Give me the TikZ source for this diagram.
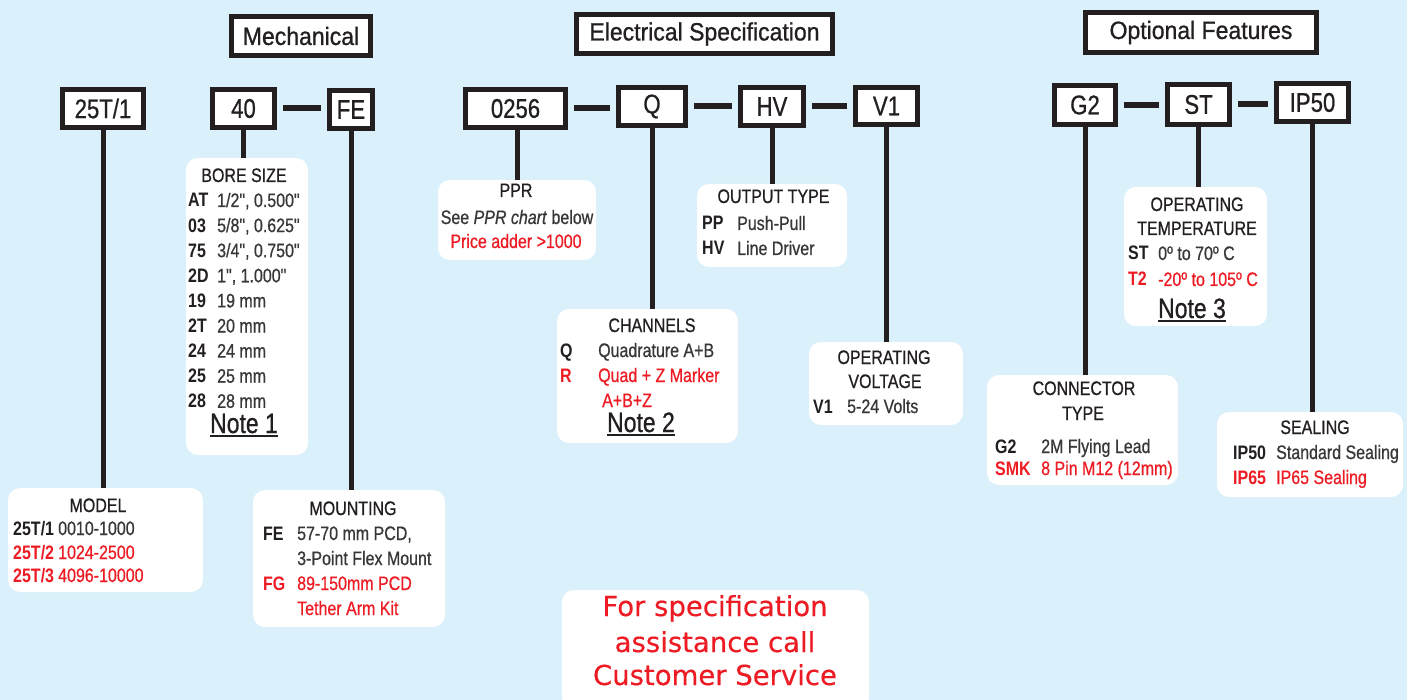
\documentclass[tikz,border=0pt]{standalone}
\usepackage{fontspec}
\setmainfont[FakeStretch=0.82, Ligatures=TeXOff, UprightFeatures={FakeBold=0.7}, ItalicFeatures={FakeBold=0.7}]{Liberation Sans}
\newfontfamily\hfont[FakeStretch=0.92, FakeBold=0.9]{Liberation Sans}
\newfontfamily\vfont[FakeBold=0.4]{DejaVu Sans}
\definecolor{bg}{RGB}{218,240,251}
\definecolor{ink}{RGB}{35,31,32}
\definecolor{val}{RGB}{55,55,55}
\definecolor{redc}{RGB}{237,28,36}
\newcommand\noteul[1]{\setbox0\hbox{#1}\rlap{\rule[-4pt]{\wd0}{1.8pt}}\box0}
\begin{document}
\begin{tikzpicture}[x=1pt,y=-1pt,
 codebox/.style={draw=ink, line width=5pt, fill=white, inner sep=0pt, font=\fontsize{27}{30}\selectfont, text=ink},
 headbox/.style={draw=ink, line width=5pt, fill=white, inner sep=0pt, font=\hfont\fontsize{25}{30}\selectfont, text=ink},
 infobox/.style={fill=white, rounded corners=12pt, inner sep=0pt},
 link/.style={draw=ink, line width=5pt},
 dashlink/.style={draw=ink, line width=6pt, shorten <=6pt, shorten >=6pt},
 hd/.style={inner sep=0pt, anchor=base, text=ink, font=\fontsize{19.5}{25}\selectfont},
 cd/.style={inner sep=0pt, anchor=base west, text=ink, font=\fontsize{19.5}{25}\selectfont\bfseries},
 vl/.style={inner sep=0pt, anchor=base west, text=val, font=\fontsize{19.5}{25}\selectfont},
 rcd/.style={cd, text=redc},
 rvl/.style={vl, text=redc},
 nt/.style={inner sep=0pt, anchor=base, text=ink, font=\fontsize{28}{30}\selectfont},
]
\useasboundingbox (0,0) rectangle (1407,700);
\fill[bg] (0,0) rectangle (1407,700);
\clip (0,0) rectangle (1407,700);

% headers
\node[headbox, minimum width=139pt, minimum height=39pt] (hmech) at (301,36) {Mechanical};
\node[headbox, minimum width=256pt, minimum height=39pt] (helec) at (704.5,34) {Electrical Specification};
\node[headbox, minimum width=231pt, minimum height=40pt] (hopt) at (1201,32.5) {Optional Features};

% code boxes
\node[codebox, minimum width=81pt, minimum height=38pt] (b25) at (103,108.5) {25T/1};
\node[codebox, minimum width=62pt, minimum height=38pt] (b40) at (243.5,108.5) {40};
\node[codebox, minimum width=43pt, minimum height=38pt] (bfe) at (351,109.5) {FE};
\node[codebox, minimum width=100pt, minimum height=38pt] (b0256) at (515.5,108.5) {0256};
\node[codebox, minimum width=67pt, minimum height=38pt] (bq) at (652,106.5) {Q};
\node[codebox, minimum width=63pt, minimum height=38pt] (bhv) at (772,106.5) {HV};
\node[codebox, minimum width=62pt, minimum height=37pt] (bv1) at (886.5,106) {V1};
\node[codebox, minimum width=61pt, minimum height=39pt] (bg2) at (1085,105) {G2};
\node[codebox, minimum width=62pt, minimum height=40pt] (bst) at (1198.5,104.5) {ST};
\node[codebox, minimum width=72pt, minimum height=38pt] (bip) at (1312.5,102.5) {IP50};

% info boxes
\node[infobox, minimum width=122pt, minimum height=297pt] (bore) at (247,306.5) {};
\node[infobox, minimum width=195pt, minimum height=104pt] (model) at (105.5,540) {};
\node[infobox, minimum width=192pt, minimum height=137pt] (mount) at (349,558.5) {};
\node[infobox, minimum width=158pt, minimum height=80pt] (ppr) at (517,220) {};
\node[infobox, minimum width=150pt, minimum height=83pt] (outp) at (772,225.5) {};
\node[infobox, minimum width=181pt, minimum height=134pt] (chan) at (647.5,376) {};
\node[infobox, minimum width=154pt, minimum height=83pt] (volt) at (886,383.5) {};
\node[infobox, minimum width=191pt, minimum height=110pt] (conn) at (1082.5,430) {};
\node[infobox, minimum width=143pt, minimum height=139pt] (temp) at (1195.5,256.5) {};
\node[infobox, minimum width=186pt, minimum height=85pt] (seal) at (1310,454.5) {};
\node[infobox, minimum width=307pt, minimum height=120pt] (call) at (715.5,650) {};

% dashes between codes
\draw[dashlink] (b40.east) -- (b40.east -| bfe.west);
\draw[dashlink] (b0256.east) -- (b0256.east -| bq.west);
\draw[dashlink] (bq.east) -- (bq.east -| bhv.west);
\draw[dashlink] (bhv.east) -- (bhv.east -| bv1.west);
\draw[dashlink] (bg2.east) -- (bg2.east -| bst.west);
\draw[dashlink] (bst.east) -- (bst.east -| bip.west);

% verticals
\draw[link] (b25.south) -- (b25.south |- model.north);
\draw[link] (b40.south) -- (b40.south |- bore.north);
\draw[link] (bfe.south) -- (bfe.south |- mount.north);
\draw[link] (ppr.north |- b0256.south) -- (ppr.north);
\draw[link] (bq.south) -- (bq.south |- chan.north);
\draw[link] (bhv.south) -- (bhv.south |- outp.north);
\draw[link] (bv1.south) -- (bv1.south |- volt.north);
\draw[link] (bg2.south) -- (bg2.south |- conn.north);
\draw[link] (bst.south) -- (bst.south |- temp.north);
\draw[link] (bip.south) -- (bip.south |- seal.north);

% bore size
\node[hd] (t-bore) at (244,182) {BORE SIZE};
\node[cd] (c1) at (188,207) {AT}; \node[vl] (v1) at (217,207) {1/2", 0.500"};
\node[cd] (c2) at (188,232.1) {03}; \node[vl] (v2) at (217,232.1) {5/8", 0.625"};
\node[cd] (c3) at (188,257.2) {75}; \node[vl] (v3) at (217,257.2) {3/4", 0.750"};
\node[cd] (c4) at (188,282.3) {2D}; \node[vl] (v4) at (217,282.3) {1", 1.000"};
\node[cd] (c5) at (188,307.4) {19}; \node[vl] (v5) at (217,307.4) {19 mm};
\node[cd] (c6) at (188,332.5) {2T}; \node[vl] (v6) at (217,332.5) {20 mm};
\node[cd] (c7) at (188,357.6) {24}; \node[vl] (v7) at (217,357.6) {24 mm};
\node[cd] (c8) at (188,382.7) {25}; \node[vl] (v8) at (217,382.7) {25 mm};
\node[cd] (c9) at (188,407.8) {28}; \node[vl] (v9) at (217,407.8) {28 mm};
\node[nt] (n1) at (244,433) {\noteul{Note 1}};

% model
\node[hd] (t-model) at (98,512) {MODEL};
\node[cd] (m1) at (13,535) {25T/1}; \node[vl] (mv1) at (58,535) {0010-1000};
\node[rcd] (m2) at (13,559) {25T/2}; \node[rvl] (mv2) at (58,559) {1024-2500};
\node[rcd] (m3) at (13,582) {25T/3}; \node[rvl] (mv3) at (58,582) {4096-10000};

% mounting
\node[hd] (t-mount) at (353,515) {MOUNTING};
\node[cd] (f1) at (263,540) {FE}; \node[vl] (fv1) at (297,540) {57-70 mm PCD,};
\node[vl] (fv2) at (297,565) {3-Point Flex Mount};
\node[rcd] (f3) at (263,590) {FG}; \node[rvl] (fv3) at (297,590) {89-150mm PCD};
\node[rvl] (fv4) at (297,615) {Tether Arm Kit};

% ppr
\node[hd] (t-ppr) at (516,197) {PPR};
\node[hd, text=val] (p1) at (517,224) {See \textit{PPR chart} below};
\node[hd, text=redc] (p2) at (516,248) {Price adder >1000};

% output
\node[hd] (t-out) at (773.5,203) {OUTPUT TYPE};
\node[cd] (o1) at (702,230) {PP}; \node[vl] (ov1) at (737,230) {Push-Pull};
\node[cd] (o2) at (702,255) {HV}; \node[vl] (ov2) at (737,255) {Line Driver};

% channels
\node[hd] (t-chan) at (652,332) {CHANNELS};
\node[cd] (q1) at (560,357) {Q}; \node[vl] (qv1) at (598,357) {Quadrature A+B};
\node[rcd] (q2) at (560,382) {R}; \node[rvl] (qv2) at (598,382) {Quad + Z Marker};
\node[rvl] (qv3) at (602,407) {A+B+Z};
\node[nt] (n2) at (641,432) {\noteul{Note 2}};

% voltage
\node[hd] (t-volt1) at (884,364) {OPERATING};
\node[hd] (t-volt2) at (885,388) {VOLTAGE};
\node[cd] (u1) at (813,413) {V1}; \node[vl] (uv1) at (847,413) {5-24 Volts};

% temperature
\node[hd] (t-temp1) at (1197,211) {OPERATING};
\node[hd] (t-temp2) at (1197,235) {TEMPERATURE};
\node[cd] (s1) at (1128,260) {ST}; \node[vl] (sv1) at (1158,260) {0º to 70º C};
\node[rcd] (s2) at (1128,286) {T2}; \node[rvl] (sv2) at (1158,286) {-20º to 105º C};
\node[nt] (n3) at (1192,318) {\noteul{Note 3}};

% connector
\node[hd] (t-conn1) at (1084,395) {CONNECTOR};
\node[hd] (t-conn2) at (1083,420) {TYPE};
\node[cd] (g1) at (995,453) {G2}; \node[vl] (gv1) at (1041,453) {2M Flying Lead};
\node[rcd] (g2) at (995,475) {SMK}; \node[rvl] (gv2) at (1041,475) {8 Pin M12 (12mm)};

% sealing
\node[hd] (t-seal) at (1315,434) {SEALING};
\node[cd] (i1) at (1233,459) {IP50}; \node[vl] (iv1) at (1276,459) {Standard Sealing};
\node[rcd] (i2) at (1233,484) {IP65}; \node[rvl] (iv2) at (1276,484) {IP65 Sealing};

% call box
\node[inner sep=0pt, anchor=base, text=redc, font=\vfont\fontsize{27.5}{35}\selectfont] (k1) at (715,616) {For specification};
\node[inner sep=0pt, anchor=base, text=redc, font=\vfont\fontsize{27.5}{35}\selectfont] (k2) at (715,652) {assistance call};
\node[inner sep=0pt, anchor=base, text=redc, font=\vfont\fontsize{27.5}{35}\selectfont] (k3) at (715,685) {Customer Service};
\end{tikzpicture}
\end{document}
